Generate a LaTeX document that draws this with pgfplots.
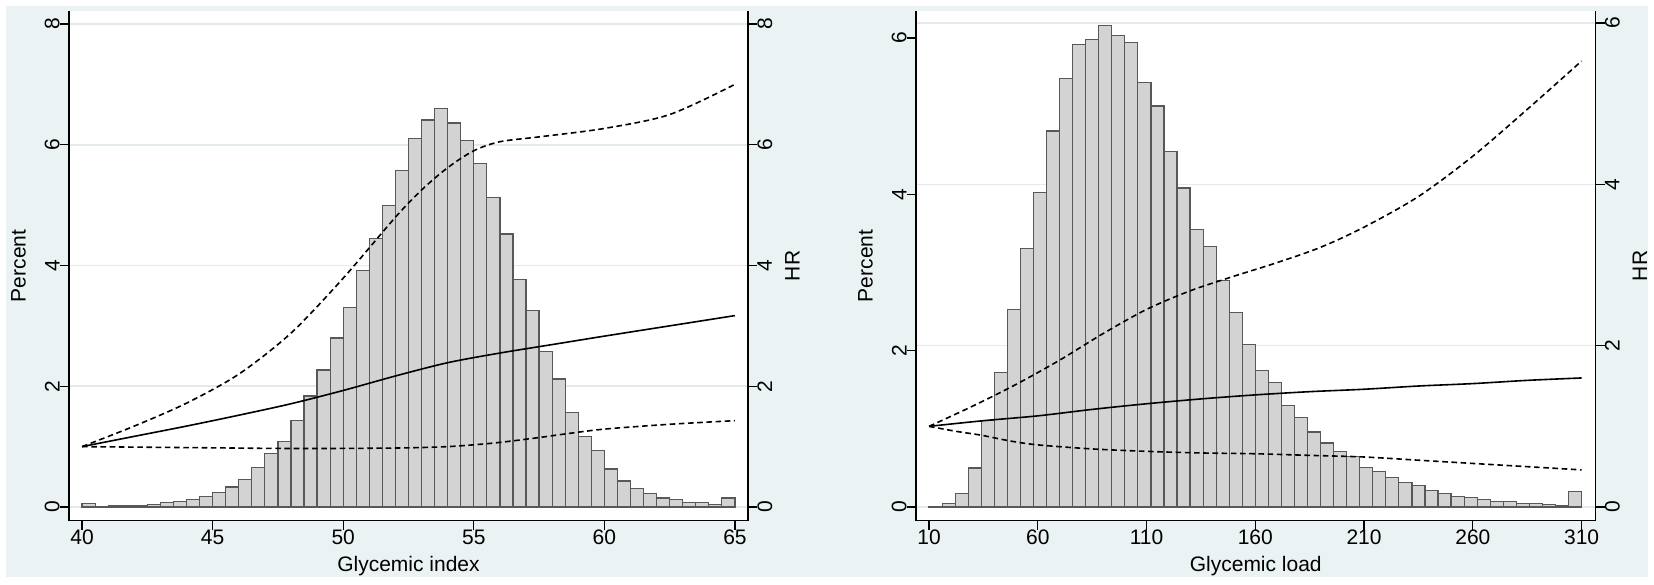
\documentclass[border=0pt]{standalone}
\usepackage{fontspec}
\setmainfont{Liberation Sans}
\usepackage{pgfplots}
\pgfplotsset{compat=1.18}
\definecolor{bgc}{RGB}{234,242,243}
\definecolor{gridc}{RGB}{226,234,236}
\definecolor{barfill}{RGB}{211,211,211}
\definecolor{baredge}{RGB}{88,88,88}
\pgfplotsset{
  base/.style={scale only axis, height=254.85pt, anchor=south west,
    tick align=outside, major tick length=4.5pt,
    every tick/.style={black, line width=0.6pt},
    axis line style={black, line width=0.65pt},
    /pgf/number format/assume math mode=true,
    tick label style={font=\fontsize{10.5}{12}\selectfont},
    label style={font=\fontsize{10.5}{12}\selectfont}},
  gridax/.style={base, axis line style={draw=none}, xtick=\empty,
    major tick style={draw=none}, yticklabel style={opacity=0}, ymajorgrids,
    grid style={gridc, line width=0.8pt}, axis background/.style={fill=white}},
  pctax/.style={base, axis x line*=bottom, axis y line*=left,
    yticklabel style={rotate=90, anchor=south, inner sep=0pt},
    xticklabel style={anchor=north, inner sep=0pt},
    xlabel style={at={(axis description cs:0.5,0)}, anchor=north, yshift=-17.5pt, inner sep=0pt},
    ylabel style={at={(axis description cs:0,0.5)}, anchor=center, yshift=25.25pt}},
  hrax/.style={base, axis y line*=right, axis x line=none, xtick=\empty,
    yticklabel style={rotate=90, anchor=north, inner sep=0pt},
    ylabel style={at={(axis description cs:1,0.5)}, anchor=center, yshift=-22.25pt}},
  hist/.style={ybar interval, fill=barfill, draw=baredge, line width=0.6pt},
  est/.style={black, line width=0.8pt, smooth},
  ci/.style={black, line width=0.8pt, smooth, dash pattern=on 2.8pt off 1.8pt},
}
\begin{document}
\begin{tikzpicture}
\useasboundingbox (0,0) rectangle (827pt,292pt);
\fill[white] (0,0) rectangle (827pt,292pt);
\fill[bgc] (3pt,3.5pt) rectangle (824pt,289pt);

% ---------- Left panel: Glycemic index ----------
\begin{axis}[gridax, at={(34.5pt,31.65pt)}, width=339.5pt,
  xmin=39.5, xmax=65.5, ymin=-0.227, ymax=8.215, ytick={0,2,4,6,8}]
\addplot[draw=none] coordinates {(40,0)};
\end{axis}
\begin{axis}[pctax, at={(34.5pt,31.65pt)}, width=339.5pt,
  xmin=39.5, xmax=65.5, ymin=-0.227, ymax=8.215,
  xtick={40,45,50,55,60,65}, ytick={0,2,4,6,8},
  xlabel={Glycemic index}, ylabel={Percent}]
\addplot[hist] coordinates {
(40,0.055) (40.5,0.005) (41,0.02) (41.5,0.025) (42,0.03) (42.5,0.045) (43,0.075) (43.5,0.09) (44,0.13) (44.5,0.17)
(45,0.24) (45.5,0.33) (46,0.45) (46.5,0.65) (47,0.88) (47.5,1.09) (48,1.43) (48.5,1.84) (49,2.27) (49.5,2.80)
(50,3.31) (50.5,3.92) (51,4.45) (51.5,4.99) (52,5.57) (52.5,6.10) (53,6.41) (53.5,6.60) (54,6.36) (54.5,6.07)
(55,5.69) (55.5,5.12) (56,4.52) (56.5,3.77) (57,3.25) (57.5,2.57) (58,2.12) (58.5,1.56) (59,1.17) (59.5,0.94)
(60,0.63) (60.5,0.43) (61,0.31) (61.5,0.23) (62,0.15) (62.5,0.12) (63,0.08) (63.5,0.07) (64,0.045) (64.5,0.15)
(65,0.15)};
\end{axis}
\begin{axis}[hrax, at={(34.5pt,31.65pt)}, width=339.5pt,
  xmin=39.5, xmax=65.5, ymin=-0.227, ymax=8.215, ytick={0,2,4,6,8},
  ylabel={HR}]
\addplot[est] coordinates {
(40,1.00) (42,1.17) (44,1.34) (46,1.52) (48,1.71) (50,1.93) (52,2.17) (54,2.39)
(56,2.55) (58,2.69) (60,2.83) (62.5,3.00) (65,3.17)};
\addplot[ci] coordinates {
(40,1.00) (42,1.34) (44,1.72) (46,2.20) (48,2.88) (50,3.79) (52,4.80) (53,5.25)
(54,5.62) (55,5.90) (56,6.05) (57.5,6.13) (60,6.27) (62.5,6.50) (65,7.00)};
\addplot[ci] coordinates {
(40,1.00) (42.5,0.99) (45,0.98) (47.5,0.97) (50,0.97) (52.5,0.98) (54,1.00) (55,1.03)
(56,1.07) (57.5,1.15) (58.5,1.21) (60,1.29) (62.5,1.37) (65,1.43)};
\end{axis}

% ---------- Right panel: Glycemic load ----------
\begin{axis}[gridax, at={(458pt,31.65pt)}, width=339.75pt,
  xmin=4, xmax=316.4, ymin=-0.17, ymax=6.15, ytick={0,2,4,6}]
\addplot[draw=none] coordinates {(10,0)};
\end{axis}
\begin{axis}[pctax, at={(458pt,31.65pt)}, width=339.75pt,
  xmin=4, xmax=316.4, ymin=-0.175, ymax=6.345,
  xtick={10,60,110,160,210,260,310}, ytick={0,2,4,6},
  xlabel={Glycemic load}, ylabel={Percent}]
\addplot[hist] coordinates {
(10,0.01) (16,0.04) (22,0.17) (28,0.50) (34,1.11) (40,1.72) (46,2.53) (52,3.31) (58,4.02) (64,4.81)
(70,5.48) (76,5.92) (82,5.98) (88,6.16) (94,6.03) (100,5.94) (106,5.43) (112,5.13) (118,4.55) (124,4.08)
(130,3.55) (136,3.33) (142,2.90) (148,2.49) (154,2.08) (160,1.75) (166,1.59) (172,1.30) (178,1.15) (184,0.96)
(190,0.82) (196,0.71) (202,0.65) (208,0.51) (214,0.45) (220,0.38) (226,0.31) (232,0.28) (238,0.21) (244,0.17)
(250,0.13) (256,0.12) (262,0.10) (268,0.07) (274,0.07) (280,0.04) (286,0.04) (292,0.03) (298,0.015) (304,0.20)
(310,0.20)};
\end{axis}
\begin{axis}[hrax, at={(458pt,31.65pt)}, width=339.75pt,
  xmin=4, xmax=316.4, ymin=-0.17, ymax=6.15, ytick={0,2,4,6},
  ylabel={HR}]
\addplot[est] coordinates {
(10,1.00) (35,1.07) (60,1.13) (85,1.21) (110,1.28) (135,1.34) (160,1.39) (185,1.43)
(210,1.46) (235,1.50) (260,1.53) (285,1.57) (310,1.60)};
\addplot[ci] coordinates {
(10,1.00) (30,1.25) (50,1.52) (70,1.82) (90,2.15) (110,2.45) (130,2.68) (150,2.86)
(170,3.03) (190,3.22) (210,3.47) (235,3.85) (260,4.35) (285,4.93) (310,5.53)};
\addplot[ci] coordinates {
(10,1.00) (22,0.94) (34,0.89) (47,0.82) (60,0.77) (85,0.72) (110,0.69) (135,0.67)
(160,0.66) (185,0.64) (210,0.62) (235,0.58) (260,0.54) (285,0.50) (310,0.46)};
\end{axis}
\end{tikzpicture}
\end{document}
